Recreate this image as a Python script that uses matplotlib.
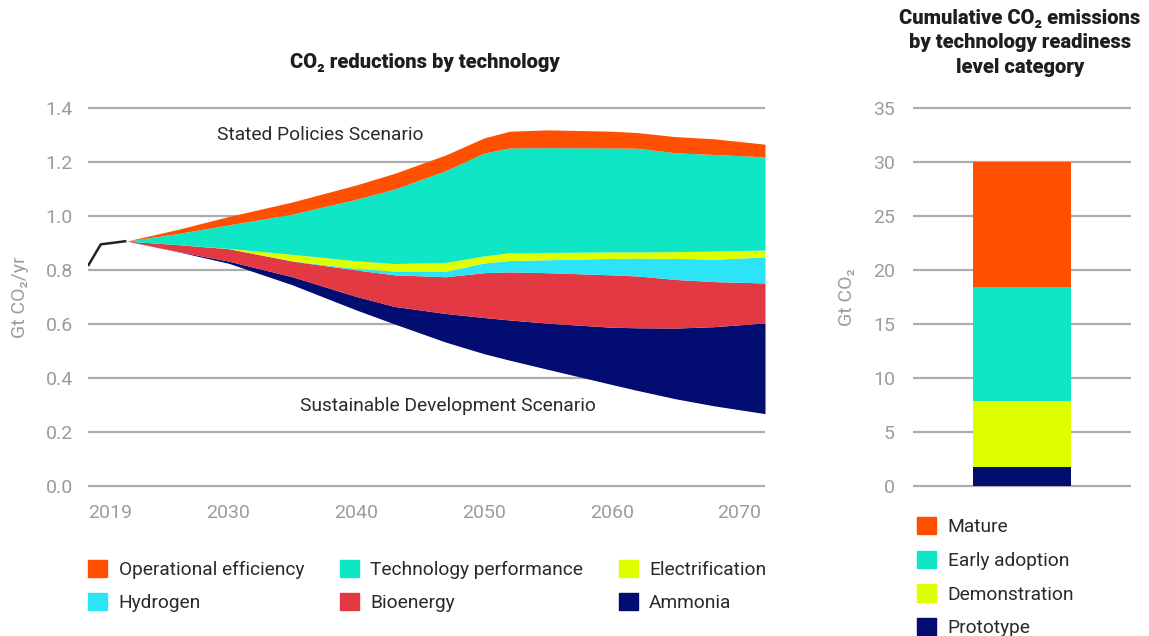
import numpy as np
import matplotlib
matplotlib.use('Agg')
import matplotlib.pyplot as plt
from matplotlib.patches import Patch

plt.rcParams['font.family'] = ['Roboto', 'DejaVu Sans']

# historical line before the fan
hist_years = [2019, 2020, 2022]
hist_values = [0.815, 0.895, 0.907]

# CO2 reductions by technology (Gt CO2/yr), stacked up from the SDS line
years = [2022, 2026, 2030, 2035, 2040, 2043, 2047, 2050, 2052, 2055, 2060, 2062, 2065, 2068, 2072]
sds_line = [0.907, 0.868, 0.825, 0.745, 0.652, 0.600, 0.533, 0.490, 0.466, 0.432, 0.376, 0.354, 0.323, 0.297, 0.268]
ammonia = [0, 0.001, 0.008, 0.030, 0.050, 0.065, 0.106, 0.134, 0.149, 0.171, 0.212, 0.232, 0.262, 0.293, 0.336]
bioenergy = [0, 0.025, 0.046, 0.058, 0.098, 0.117, 0.136, 0.166, 0.178, 0.187, 0.194, 0.192, 0.180, 0.167, 0.148]
hydrogen = [0, 0, 0, 0.001, 0.006, 0.014, 0.020, 0.036, 0.042, 0.048, 0.061, 0.066, 0.078, 0.083, 0.096]
electrification = [0, 0, 0.001, 0.024, 0.028, 0.028, 0.033, 0.026, 0.029, 0.027, 0.024, 0.023, 0.025, 0.030, 0.026]
tech_performance = [0, 0.041, 0.087, 0.149, 0.228, 0.276, 0.340, 0.381, 0.388, 0.388, 0.385, 0.384, 0.366, 0.358, 0.345]
operational = [0, 0.015, 0.031, 0.045, 0.053, 0.058, 0.058, 0.056, 0.062, 0.066, 0.062, 0.058, 0.060, 0.058, 0.047]

layer_names = ['Ammonia', 'Bioenergy', 'Hydrogen', 'Electrification',
               'Technology performance', 'Operational efficiency']
layer_colors = ['#030c70', '#e33943', '#2de3f8', '#ddff00', '#0ee6c5', '#fe5000']
layers = [ammonia, bioenergy, hydrogen, electrification, tech_performance, operational]

x_ticks = [2019, 2030, 2040, 2050, 2060, 2070]
y_ticks = [0.0, 0.2, 0.4, 0.6, 0.8, 1.0, 1.2, 1.4]

# cumulative emissions by readiness level (Gt CO2)
trl_names = ['Prototype', 'Demonstration', 'Early adoption', 'Mature']
trl_values = [1.8, 6.1, 10.5, 11.6]
trl_colors = ['#030c70', '#ddff00', '#0ee6c5', '#fe5000']

grid_color = '#adadad'
tick_color = '#9c9c9c'
text_color = '#2a2a2a'

W, H = 1149, 636
fig = plt.figure(figsize=(W / 100, H / 100), dpi=100)

# ---- left chart ----
ax = fig.add_axes([88 / W, 1 - 488.7 / H, 677 / W, 383.4 / H])
bottom = np.array(sds_line, dtype=float)
for vals, col in zip(layers, layer_colors):
    top = bottom + np.array(vals)
    ax.fill_between(years, bottom, top, color=col, linewidth=0, zorder=3)
    bottom = top
ax.plot(hist_years, hist_values, color='#222222', lw=1.8, zorder=4, solid_capstyle='butt')

ax.set_xlim(2019, 2072)
ax.set_ylim(-0.01, 1.41)
ax.set_yticks(y_ticks)
ax.set_yticklabels(['%.1f' % v for v in y_ticks])
ax.set_xticks(x_ticks)
ax.set_xticklabels([str(v) for v in x_ticks])
ax.get_xticklabels()[0].set_ha('left')
ax.grid(axis='y', color=grid_color, lw=1.6, zorder=1)
ax.tick_params(length=0, labelsize=14, labelcolor=tick_color)
ax.tick_params(axis='y', pad=11)
ax.tick_params(axis='x', pad=11)
for s in ax.spines.values():
    s.set_visible(False)
ax.set_ylabel('Gt CO\u2082/yr', fontsize=14, color=tick_color, labelpad=12)

ax.text(2037.2, 1.30, 'Stated Policies Scenario', ha='center', va='center',
        fontsize=13.8, color=text_color)
ax.text(2047.2, 0.296, 'Sustainable Development Scenario', ha='center', va='center',
        fontsize=13.8, color=text_color)

fig.text(425 / W, 1 - 62 / H, 'CO\u2082 reductions by technology', ha='center', va='center',
         fontsize=14.5, fontweight='black', color='#1e1e1e')

# legend, filled column-wise so rows read left to right
order = [5, 2, 4, 1, 3, 0]
handles = [Patch(color=layer_colors[i], label=layer_names[i]) for i in order]
fig.legend(handles=handles, loc='upper left', bbox_to_anchor=(88 / W, 1 - 560 / H),
           ncol=3, frameon=False, fontsize=13.8, handlelength=1.0, handleheight=1.0,
           handletextpad=0.6, columnspacing=1.85, labelspacing=0.72,
           borderpad=0, borderaxespad=0, labelcolor=text_color)

# ---- right chart ----
ax2 = fig.add_axes([913 / W, 1 - 489.2 / H, 218 / W, 384.4 / H])
base = 0
for name, val, col in zip(trl_names, trl_values, trl_colors):
    ax2.bar(0, val, bottom=base, width=0.454, color=col, zorder=3, label=name)
    base += val
ax2.set_xlim(-0.5, 0.5)
ax2.set_ylim(-0.3, 35.3)
ax2.set_yticks(range(0, 40, 5))
ax2.set_xticks([])
ax2.grid(axis='y', color=grid_color, lw=1.6, zorder=1)
ax2.tick_params(length=0, labelsize=14, labelcolor=tick_color, pad=13)
for s in ax2.spines.values():
    s.set_visible(False)
ax2.set_ylabel('Gt CO\u2082', fontsize=14, color=tick_color, labelpad=12)

fig.text(1020 / W, 1 - 43 / H,
         'Cumulative CO\u2082 emissions\nby technology readiness\nlevel category',
         ha='center', va='center', fontsize=14.5, fontweight='black', color='#1e1e1e',
         linespacing=1.38)

handles2 = [Patch(color=trl_colors[i], label=trl_names[i]) for i in [3, 2, 1, 0]]
fig.legend(handles=handles2, loc='upper left', bbox_to_anchor=(917 / W, 1 - 517 / H),
           ncol=1, frameon=False, fontsize=13.8, handlelength=1.0, handleheight=1.0,
           handletextpad=0.6, labelspacing=0.76, borderpad=0, borderaxespad=0,
           labelcolor=text_color)

fig.savefig('out.png', dpi=100)
